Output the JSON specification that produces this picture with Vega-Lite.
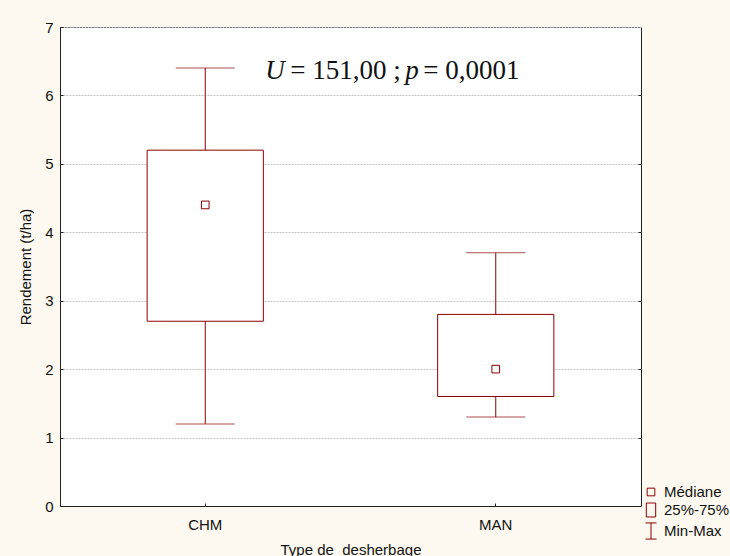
{
  "$schema": "https://vega.github.io/schema/vega-lite/v6.json",
  "width": 581,
  "height": 479,
  "autosize": {"type": "none"},
  "padding": {"left": 60, "top": 27, "right": 89, "bottom": 50},
  "background": "#fdf9f0",
  "config": {
    "view": {"stroke": "#222", "strokeWidth": 1, "fill": "white"},
    "font": "Liberation Sans",
    "axis": {"labelFont": "Liberation Sans", "labelFontSize": 15, "labelColor": "#111", "titleFont": "Liberation Sans", "titleFontSize": 15, "titleFontWeight": "normal", "titleColor": "#111", "domainColor": "#222", "tickColor": "#222"}
  },
  "data": {"values": [
    {"type": "CHM", "min": 1.2, "q1": 2.7, "median": 4.4, "q3": 5.2, "max": 6.4},
    {"type": "MAN", "min": 1.3, "q1": 1.6, "median": 2.0, "q3": 2.8, "max": 3.7}
  ]},
  "resolve": {"axis": {"y": "independent"}},
  "layer": [
    {
      "mark": {"type": "bar", "fill": "white", "stroke": "#8b0000", "strokeWidth": 1, "width": {"band": 0.4}},
      "encoding": {
        "x": {"field": "type", "type": "nominal", "scale": {"type": "band", "paddingInner": 0, "paddingOuter": 0},
              "axis": {"title": "Type de\u00a0 desherbage", "labelAngle": 0, "tickSize": -3, "labelPadding": 14, "titlePadding": 10, "domain": true}},
        "y": {"field": "q1", "type": "quantitative", "scale": {"domain": [0, 7], "nice": false, "zero": true},
              "axis": {"title": "Rendement (t/ha)", "values": [0, 1, 2, 3, 4, 5, 6, 7], "tickSize": -3, "labelPadding": 10, "titlePadding": 11,
                       "grid": true, "gridColor": "#c4c4c4", "gridDash": [2, 1], "gridWidth": 1}},
        "y2": {"field": "q3"}
      }
    },
    {
      "mark": {"type": "rule", "color": "#8b0000", "strokeWidth": 1},
      "encoding": {
        "x": {"field": "type", "type": "nominal"},
        "y": {"field": "min", "type": "quantitative", "axis": null},
        "y2": {"field": "q1"}
      }
    },
    {
      "mark": {"type": "rule", "color": "#8b0000", "strokeWidth": 1},
      "encoding": {
        "x": {"field": "type", "type": "nominal"},
        "y": {"field": "q3", "type": "quantitative",
              "axis": {"orient": "right", "labels": false, "grid": false, "domain": false, "ticks": true, "tickSize": -3, "values": [1, 2, 3, 4, 5, 6], "title": null}},
        "y2": {"field": "max"}
      }
    },
    {
      "mark": {"type": "tick", "color": "#8b0000", "thickness": 1, "size": 59, "orient": "horizontal"},
      "encoding": {
        "x": {"field": "type", "type": "nominal"},
        "y": {"field": "min", "type": "quantitative", "axis": null}
      }
    },
    {
      "mark": {"type": "tick", "color": "#8b0000", "thickness": 1, "size": 59, "orient": "horizontal"},
      "encoding": {
        "x": {"field": "type", "type": "nominal"},
        "y": {"field": "max", "type": "quantitative", "axis": null}
      }
    },
    {
      "mark": {"type": "point", "filled": false, "color": "#8b0000", "strokeWidth": 1, "size": 289, "opacity": 1},
      "encoding": {
        "x": {"field": "type", "type": "nominal"},
        "y": {"field": "median", "type": "quantitative", "axis": null},
        "shape": {
          "datum": "Médiane", "type": "nominal",
          "scale": {"domain": ["Médiane", "25%-75%", "Min-Max"],
                    "range": ["M-0.45,-0.45H0.45V0.45H-0.45Z", "M-0.55,-0.82H0.55V0.82H-0.55Z", "M-0.65,-0.95H0.65M0,-0.95V0.95M-0.65,0.95H0.65"]},
          "legend": {"orient": "none", "legendX": 582, "legendY": 456, "title": null, "padding": 0, "symbolSize": 289,
                     "symbolStrokeWidth": 1, "symbolOpacity": 1,
                     "labelFont": "Liberation Sans", "labelFontSize": 15, "labelColor": "#111", "rowPadding": 1, "labelOffset": 4}
        }
      }
    },
    {
      "data": {"values": [{"pos": "CHM", "U": "U", "Uval": "= 151,00 ;", "p": "p", "pval": "= 0,0001"}]},
      "layer": [
        {"mark": {"type": "text", "font": "Liberation Serif", "fontSize": 27, "fontStyle": "italic", "align": "left", "baseline": "alphabetic", "dx": 60, "color": "#111"},
         "encoding": {"x": {"field": "pos", "type": "nominal"}, "y": {"datum": 6.24, "type": "quantitative", "axis": null}, "text": {"field": "U"}}},
        {"mark": {"type": "text", "font": "Liberation Serif", "fontSize": 27, "align": "left", "baseline": "alphabetic", "dx": 85, "color": "#111"},
         "encoding": {"x": {"field": "pos", "type": "nominal"}, "y": {"datum": 6.24, "type": "quantitative", "axis": null}, "text": {"field": "Uval"}}},
        {"mark": {"type": "text", "font": "Liberation Serif", "fontSize": 27, "fontStyle": "italic", "align": "left", "baseline": "alphabetic", "dx": 200, "color": "#111"},
         "encoding": {"x": {"field": "pos", "type": "nominal"}, "y": {"datum": 6.24, "type": "quantitative", "axis": null}, "text": {"field": "p"}}},
        {"mark": {"type": "text", "font": "Liberation Serif", "fontSize": 27, "align": "left", "baseline": "alphabetic", "dx": 218, "color": "#111"},
         "encoding": {"x": {"field": "pos", "type": "nominal"}, "y": {"datum": 6.24, "type": "quantitative", "axis": null}, "text": {"field": "pval"}}}
      ]
    }
  ]
}
